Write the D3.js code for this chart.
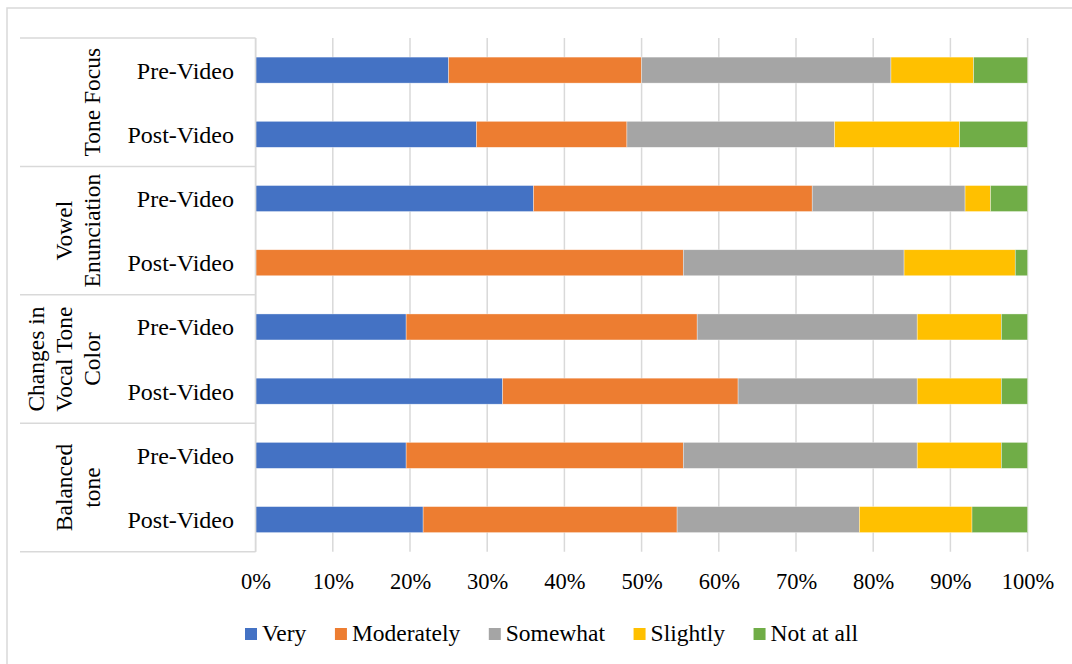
<!DOCTYPE html>
<html>
<head>
<meta charset="utf-8">
<script src="https://cdn.jsdelivr.net/npm/d3@7"></script>
<style>
  html, body { margin: 0; padding: 0; background: #fff; }
  svg { display: block; font-family: "Liberation Serif", "Times New Roman", serif; }
</style>
</head>
<body>
<svg id="chart" width="1072" height="664"></svg>
<script>
// Rows from top to bottom: each group has a Pre-Video and a Post-Video bar
const groups = [
  ["Tone Focus"],
  ["Vowel", "Enunciation"],
  ["Changes in", "Vocal Tone", "Color"],
  ["Balanced", "tone"]
];
const phases = ["Pre-Video", "Post-Video"];

const seriesNames = ["Very", "Moderately", "Somewhat", "Slightly", "Not at all"];
const seriesColors = ["#4472C4", "#ED7D31", "#A5A5A5", "#FFC000", "#70AD47"];

// Percent of responses per row (same row order as above)
const very       = [25.0, 28.6, 36.0,  0.0, 19.5, 32.0, 19.5, 21.7];
const moderately = [25.0, 19.5, 36.1, 55.4, 37.7, 30.5, 35.9, 32.9];
const somewhat   = [32.3, 26.9, 19.8, 28.6, 28.5, 23.2, 30.3, 23.6];
const slightly   = [10.7, 16.2,  3.3, 14.4, 10.9, 10.9, 10.9, 14.6];
const notAtAll   = [ 7.0,  8.8,  4.8,  1.6,  3.4,  3.4,  3.4,  7.2];

const xTicks = [0, 0.1, 0.2, 0.3, 0.4, 0.5, 0.6, 0.7, 0.8, 0.9, 1.0];

// ---- build rows ----
const seriesValues = [very, moderately, somewhat, slightly, notAtAll];
const rows = [];
groups.forEach((g, gi) => {
  phases.forEach((p, pi) => {
    const i = gi * phases.length + pi;
    const r = { id: i, group: gi, phase: p };
    seriesNames.forEach((s, si) => { r[s] = seriesValues[si][i]; });
    rows.push(r);
  });
});

const svg = d3.select("#chart");
const plot = { left: 255.6, right: 1027.6, top: 38, bottom: 551.7 };
const grid = "#d9d9d9";

// chart frame
svg.append("rect")
  .attr("x", 7).attr("y", 8).attr("width", 1100).attr("height", 700)
  .attr("fill", "#fff").attr("stroke", grid).attr("stroke-width", 1.5);

const x = d3.scaleLinear().domain([0, 1]).range([plot.left, plot.right]);
const y = d3.scaleBand()
  .domain(rows.map(r => r.id))
  .range([plot.top, plot.bottom])
  .paddingInner(0.595)
  .paddingOuter(0.2975);

// vertical gridlines
svg.append("g").selectAll("line")
  .data(xTicks)
  .join("line")
  .attr("x1", d => x(d)).attr("x2", d => x(d))
  .attr("y1", plot.top).attr("y2", plot.bottom)
  .attr("stroke", grid).attr("stroke-width", 1.5);

// stacked bars normalised to 100%
const stack = d3.stack().keys(seriesNames).offset(d3.stackOffsetExpand);
const layers = stack(rows);

svg.append("g").selectAll("g")
  .data(layers)
  .join("g")
  .attr("fill", (d, i) => seriesColors[i])
  .selectAll("rect")
  .data(d => d)
  .join("rect")
  .attr("x", d => x(d[0]))
  .attr("width", d => Math.max(0, x(d[1]) - x(d[0])))
  .attr("y", d => y(d.data.id))
  .attr("height", y.bandwidth())
  .attr("stroke", "#ffffff").attr("stroke-width", 0.6).attr("stroke-opacity", 0.6);

// x axis tick labels
const xAxis = d3.axisBottom(x).tickValues(xTicks).tickFormat(d3.format(".0%")).tickSize(0);
const gx = svg.append("g")
  .attr("transform", `translate(0,${plot.bottom})`)
  .call(xAxis);
gx.select(".domain").remove();
gx.selectAll("text")
  .attr("y", 0).attr("dy", 0)
  .attr("transform", "translate(0,37)")
  .attr("fill", "#000")
  .attr("font-family", "Liberation Serif, Times New Roman, serif")
  .attr("font-size", 22.5);

// category axis: vertical axis line, group separators, labels
const cat = svg.append("g");
cat.append("line")
  .attr("x1", plot.left).attr("x2", plot.left)
  .attr("y1", plot.top).attr("y2", plot.bottom)
  .attr("stroke", grid).attr("stroke-width", 1.5);

const groupEdges = d3.range(groups.length + 1).map(gi => {
  if (gi === groups.length) return plot.bottom;
  return y(gi * phases.length) - y.step() * y.paddingOuter() ;
});
cat.selectAll("line.sep")
  .data(groupEdges)
  .join("line")
  .attr("class", "sep")
  .attr("x1", 20).attr("x2", plot.left)
  .attr("y1", d => d).attr("y2", d => d)
  .attr("stroke", grid).attr("stroke-width", 1.5);

cat.selectAll("text.phase")
  .data(rows)
  .join("text")
  .attr("class", "phase")
  .attr("x", 234)
  .attr("y", d => y(d.id) + y.bandwidth() / 2 + 8.5)
  .attr("text-anchor", "end")
  .attr("font-size", 24)
  .attr("fill", "#000")
  .text(d => d.phase);

groups.forEach((lines, gi) => {
  const cy = (groupEdges[gi] + groupEdges[gi + 1]) / 2;
  const n = lines.length;
  lines.forEach((t, li) => {
    const bx = 100 - (n - 1 - li) * 28;
    cat.append("text")
      .attr("transform", `translate(${bx},${cy}) rotate(-90)`)
      .attr("text-anchor", "middle")
      .attr("font-size", 23.5)
      .attr("fill", "#000")
      .text(t);
  });
});

// legend
const legend = svg.append("g");
const items = legend.selectAll("g")
  .data(seriesNames)
  .join("g");
items.append("rect")
  .attr("width", 12).attr("height", 12)
  .attr("y", 628)
  .attr("fill", (d, i) => seriesColors[i]);
items.append("text")
  .attr("x", 17)
  .attr("y", 640.5)
  .attr("font-size", 23.5)
  .attr("fill", "#000")
  .text(d => d);

const widths = [];
items.selectAll("text").each(function () { widths.push(this.getComputedTextLength()); });
const legendStart = 245, legendEnd = 858;
const content = d3.sum(widths) + seriesNames.length * 17;
const gap = (legendEnd - legendStart - content) / (seriesNames.length - 1);
let cx = legendStart;
items.attr("transform", (d, i) => {
  const t = `translate(${cx},0)`;
  cx += 17 + widths[i] + gap;
  return t;
});
</script>
</body>
</html>
